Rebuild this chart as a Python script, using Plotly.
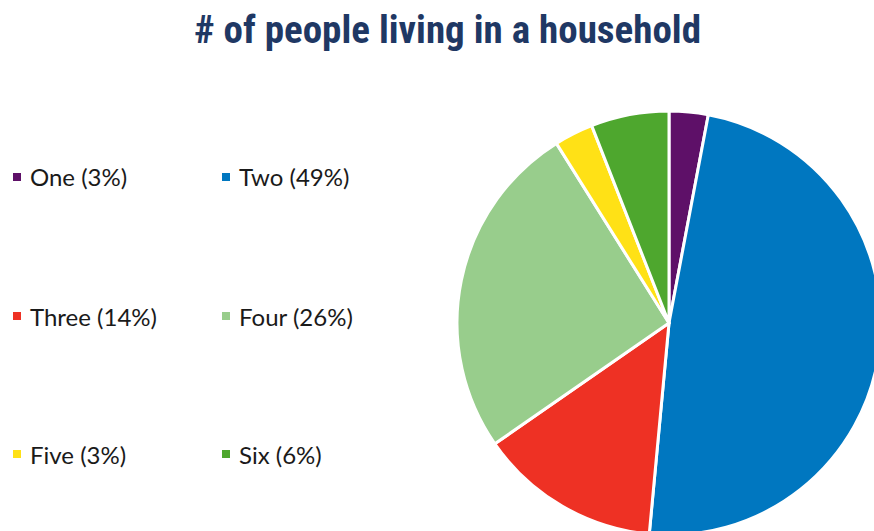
import plotly.graph_objects as go

# Household size distribution
categories = ["One", "Two", "Three", "Four", "Five", "Six"]
shares = [3, 49, 14, 26, 3, 6]
colors = ["#5e1068", "#0077c0", "#ee3124", "#98cd8c", "#ffe116", "#4ea72e"]
title_text = "# of people living in a household"

W, H = 890, 545  # figure is a little larger than the viewport; the pie runs off the edge


def px_x(px):
    return px / W


def px_y(py):
    return 1 - py / H


labels = [f"{c} ({s}%)" for c, s in zip(categories, shares)]

cx, cy, r = 669, 323, 212
fig = go.Figure(
    go.Pie(
        labels=labels,
        values=shares,
        sort=False,
        direction="clockwise",
        rotation=0,
        textinfo="none",
        hoverinfo="label",
        marker=dict(colors=colors, line=dict(color="white", width=3)),
        domain=dict(x=[px_x(cx - r), px_x(cx + r)], y=[px_y(cy + r), px_y(cy - r)]),
        showlegend=False,
    )
)

# legend drawn as a 2-column grid of swatches and labels
col_x = [13, 222]
row_y = [177, 316, 454]
shapes, annotations = [], []
for i, (lab, col) in enumerate(zip(labels, colors)):
    x0 = col_x[i % 2]
    y0 = row_y[i // 2]
    shapes.append(dict(type="rect", xref="paper", yref="paper",
                       x0=px_x(x0), x1=px_x(x0 + 8),
                       y0=px_y(y0 + 4), y1=px_y(y0 - 4),
                       fillcolor=col, line=dict(width=0)))
    annotations.append(dict(text=lab, xref="paper", yref="paper",
                            x=px_x(x0 + 15), y=px_y(y0), xanchor="left", yanchor="middle",
                            showarrow=False,
                            font=dict(family="Lato, Open Sans, sans-serif", size=24, color="#1a1a1a")))

annotations.append(dict(text=f"<b>{title_text}</b>", xref="paper", yref="paper",
                        x=px_x(447), y=px_y(30), xanchor="center", yanchor="middle",
                        showarrow=False,
                        font=dict(family="Liberation Sans Narrow, Roboto Condensed, Roboto, sans-serif",
                                  size=39, color="#1f3864")))

fig.update_layout(
    width=W, height=H,
    margin=dict(l=0, r=0, t=0, b=0),
    paper_bgcolor="white",
    plot_bgcolor="white",
    shapes=shapes,
    annotations=annotations,
)

fig.write_html(
    "out.html",
    post_script="document.documentElement.style.overflow='hidden';document.body.style.overflow='hidden';document.body.style.margin='0';",
)
